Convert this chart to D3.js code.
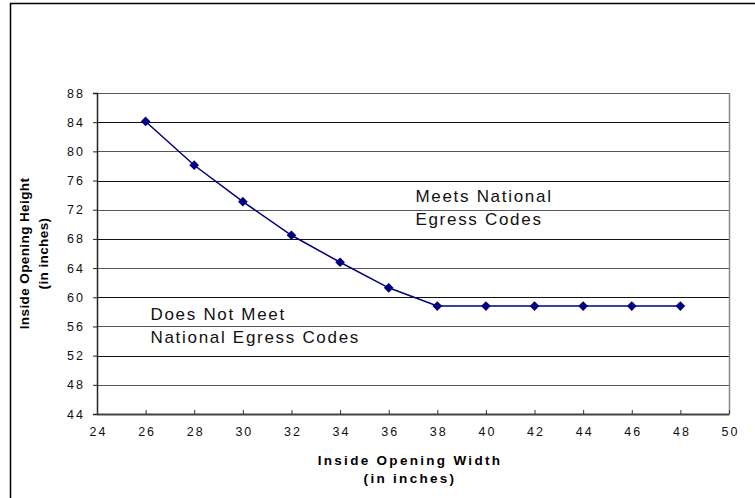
<!DOCTYPE html>
<html>
<head>
<meta charset="utf-8">
<script src="https://cdn.jsdelivr.net/npm/d3@7"></script>
<style>
  body { margin: 0; background: #fff; }
  text { font-family: Arial, "Liberation Sans", sans-serif; }
</style>
</head>
<body>
<div id="chart"></div>
<script>
const widths = [26, 28, 30, 32, 34, 36, 38, 40, 42, 44, 46, 48];
const heights = [84.1, 78.1, 73.1, 68.5, 64.8, 61.3, 58.8, 58.8, 58.8, 58.8, 58.8, 58.8];
const xTicks = [24, 26, 28, 30, 32, 34, 36, 38, 40, 42, 44, 46, 48, 50];
const yTicks = [44, 48, 52, 56, 60, 64, 68, 72, 76, 80, 84, 88];
const notes = [
  { x: 37.1, y: 73.1, lines: ['Meets National', 'Egress Codes'] },
  { x: 26.2, y: 56.9, lines: ['Does Not Meet', 'National Egress Codes'] }
];

const W = 755, H = 498;
const margin = { top: 93, right: 26, bottom: 84, left: 97 };
const width = W - margin.left - margin.right;
const height = H - margin.top - margin.bottom;

const root = d3.select('#chart').append('svg')
  .attr('width', W).attr('height', H);

// outer chart frame (runs off right/bottom edges)
root.append('rect')
  .attr('x', 10.5).attr('y', 3.5)
  .attr('width', W + 20).attr('height', H + 20)
  .attr('fill', 'none').attr('stroke', '#000').attr('stroke-width', 1.5);

const svg = root.append('g').attr('transform', `translate(${margin.left},${margin.top})`);

const x = d3.scaleLinear().domain([24, 50]).range([0, width]);
const y = d3.scaleLinear().domain([44, 88]).range([height, 0]);

// gridlines
svg.append('g')
  .selectAll('line')
  .data(yTicks.slice(1))
  .join('line')
  .attr('x1', 0).attr('x2', width)
  .attr('y1', (d) => Math.round(y(d)) + 0.5).attr('y2', (d) => Math.round(y(d)) + 0.5)
  .attr('stroke', (d, i) => (i % 2 ? '#111' : '#555'))
  .attr('stroke-width', 1);

// right border
svg.append('line')
  .attr('x1', width + 0.5).attr('x2', width + 0.5)
  .attr('y1', 0).attr('y2', height)
  .attr('stroke', '#888').attr('stroke-width', 1.5);

// y axis
const yAxis = svg.append('g')
  .call(d3.axisLeft(y).tickValues(yTicks).tickSize(4).tickPadding(8));
yAxis.select('.domain').attr('stroke', '#222').attr('stroke-width', 1.5);
yAxis.selectAll('.tick line').attr('stroke', '#222');
yAxis.selectAll('text').attr('font-size', 12.5).attr('fill', '#111')
  .style('letter-spacing', '2px');

// x axis
const xAxis = svg.append('g')
  .attr('transform', `translate(0,${height})`)
  .call(d3.axisBottom(x).tickValues(xTicks).tickSizeInner(-4).tickSizeOuter(0).tickPadding(13));
xAxis.select('.domain').attr('stroke', '#444').attr('stroke-width', 2);
xAxis.selectAll('.tick line').attr('stroke', '#333');
xAxis.selectAll('text').attr('font-size', 12.5).attr('fill', '#111')
  .attr('dx', 1)
  .style('letter-spacing', '2px');

// series
const line = d3.line().x((d, i) => x(widths[i])).y((d) => y(d));
svg.append('path')
  .datum(heights)
  .attr('d', line)
  .attr('fill', 'none')
  .attr('stroke', '#000080')
  .attr('stroke-width', 1.5);

svg.selectAll('.pt')
  .data(heights)
  .join('path')
  .attr('class', 'pt')
  .attr('transform', (d, i) => `translate(${x(widths[i])},${y(d)})`)
  .attr('d', d3.symbol(d3.symbolDiamond2, 60))
  .attr('fill', '#000080');

// annotations
notes.forEach((n) => {
  const t = svg.append('text')
    .attr('x', x(n.x)).attr('y', y(n.y))
    .attr('font-size', 17).attr('fill', '#111')
    .style('letter-spacing', '1.7px');
  n.lines.forEach((l, i) => {
    t.append('tspan').attr('x', x(n.x)).attr('dy', i ? 23.5 : 0).text(l);
  });
});

// axis titles
const xt = svg.append('text')
  .attr('x', width / 2 - 3).attr('y', height + 51)
  .attr('text-anchor', 'middle')
  .attr('font-size', 13.5).attr('font-weight', 'bold').attr('fill', '#000')
  .style('letter-spacing', '2.3px');
xt.append('tspan').attr('x', width / 2 - 3).text('Inside Opening Width');
xt.append('tspan').attr('x', width / 2 - 3).attr('dy', 18).text('(in inches)');

const yt = root.append('text')
  .attr('transform', `translate(29,${margin.top + height / 2}) rotate(-90)`)
  .attr('text-anchor', 'middle')
  .attr('font-size', 13.5).attr('font-weight', 'bold').attr('fill', '#000')
  .style('letter-spacing', '0.4px');
yt.append('tspan').attr('x', 0).text('Inside Opening Height');
yt.append('tspan').attr('x', 0).attr('dy', 19).text('(in inches)');
</script>
</body>
</html>
